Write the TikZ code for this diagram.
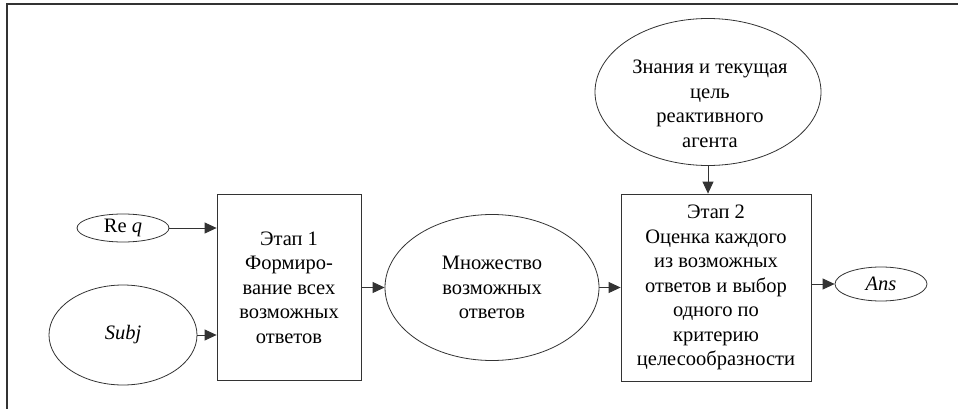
\documentclass[tikz,border=0pt]{standalone}
\usepackage{fontspec}
\setmainfont{Liberation Serif}
\usetikzlibrary{shapes.geometric,arrows.meta}
\tikzset{
  EllStyle/.style = { ellipse, draw = black!80, line width = 0.8pt,
                      inner sep = 0pt, align = center },
  BoxStyle/.style = { rectangle, draw = black!80, line width = 0.8pt,
                      inner sep = 0pt, align = center },
  EdgeStyle/.style = { draw = black!80, line width = 0.8pt,
                       -{Triangle[length=12pt,width=11pt]} } }

\begin{document}
\begin{tikzpicture}[x=1pt,y=-1pt,font=\fontsize{20.5}{24.5}\selectfont]
  \useasboundingbox (0,0) rectangle (958,409);
  \draw[line width=1.8pt, black!80] (958,4) -- (7,4) -- (7,409);

  \node[EllStyle, minimum width=92pt, minimum height=28pt] (req) at (123,228) {Re \textit{q}};
  \node[EllStyle, minimum width=148pt, minimum height=100pt] (subj) at (123,335) {\textit{Subj}};

  \node[BoxStyle, minimum width=144pt, minimum height=186pt] (box1) at (289,287.5)
    {Этап 1\\Формиро-\\вание всех\\возможных\\ответов};
  \node[EllStyle, minimum width=214pt, minimum height=146pt] (set) at (492,287.5)
    {Множество\\возможных\\ответов};
  \node[BoxStyle, minimum width=190pt, minimum height=187pt] (box2) at (716,287.5)
    {Этап 2\\Оценка каждого\\из возможных\\ответов и выбор\\одного по\\критерию\\целесообразности};

  \node[EllStyle, minimum width=226pt, minimum height=147pt] (know) at (708,92) {};
  \node[align=center, inner sep=0pt] (knowtxt) at (710,104)
    {Знания и текущая\\цель\\реактивного\\агента};

  \node[EllStyle, minimum width=92pt, minimum height=34pt] (ans) at (881,284) {\textit{Ans}};

  \draw[EdgeStyle] (req) -- (req -| box1.west);
  \draw[EdgeStyle] (subj) -- (subj -| box1.west);
  \draw[EdgeStyle] (box1) -- (set);
  \draw[EdgeStyle] (set) -- (box2);
  \draw[EdgeStyle] (box2.east |- ans) -- (ans);
  \draw[EdgeStyle] (know.south) -- (know.south |- box2.north);
\end{tikzpicture}
\end{document}
